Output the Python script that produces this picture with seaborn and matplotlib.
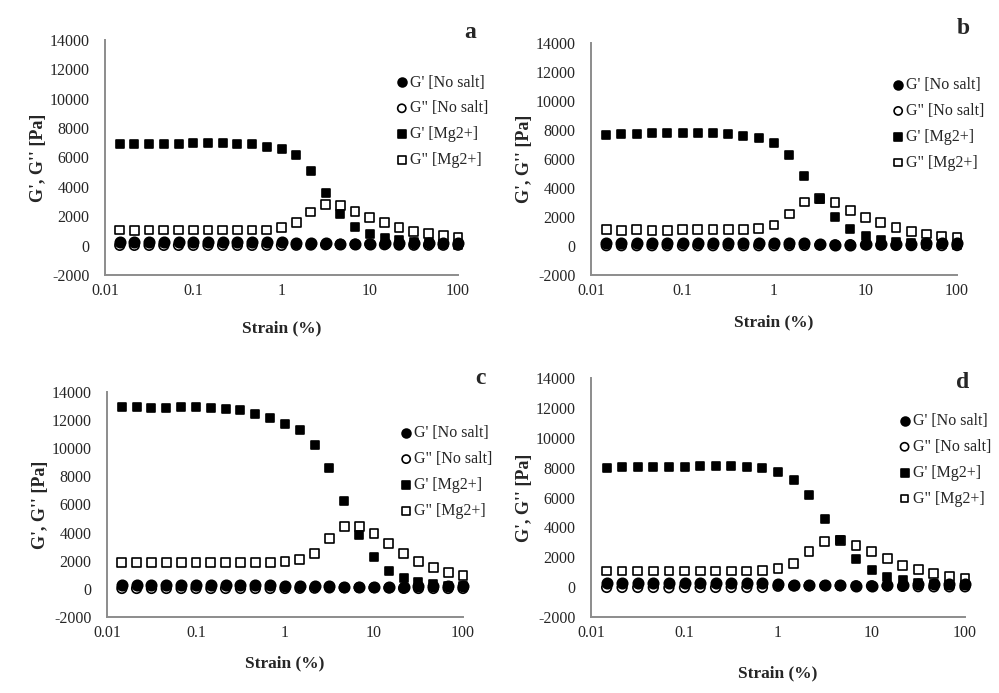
import numpy as np
import pandas as pd
import matplotlib
matplotlib.use("Agg")
import matplotlib.pyplot as plt
import seaborn as sns

# ==========================================
# DANE
# ==========================================
strain = [0.0147, 0.0215, 0.0316, 0.0464, 0.0681, 0.1, 0.147, 0.215, 0.316, 0.464,
          0.681, 1.0, 1.47, 2.15, 3.16, 4.64, 6.81, 10.0, 14.7, 21.5, 31.6, 46.4, 68.1, 100.0]

series_labels = ["G' [No salt]", 'G" [No salt]', "G' [Mg2+]", 'G" [Mg2+]']
panel_letters = ["a", "b", "c", "d"]

# panel a
a_gp_ns = [230, 240, 240, 240, 240, 240, 240, 240, 240, 230, 230, 220, 210, 200, 170, 110,
           90, 130, 160, 170, 170, 180, 180, 190]
a_gpp_ns = [20, 20, 20, 20, 20, 20, 20, 20, 20, 20, 20, 20, 30, 40, 60, 90,
            100, 110, 60, 40, 30, 30, 30, 30]
a_gp_mg = [6900, 6900, 6900, 6900, 6900, 6970, 6970, 6970, 6900, 6900, 6740, 6580, 6170, 5070,
           3610, 2170, 1300, 800, 530, 390, 230, 160, 110, 70]
a_gpp_mg = [1070, 1030, 1070, 1070, 1070, 1070, 1070, 1070, 1070, 1070, 1070, 1260, 1550, 2290,
            2810, 2740, 2350, 1940, 1550, 1210, 960, 800, 690, 530]

# panel b
b_gp_ns = [240, 240, 240, 240, 240, 240, 240, 240, 240, 240, 230, 220, 200, 180, 120, 100,
           90, 110, 150, 170, 170, 180, 180, 190]
b_gpp_ns = [20, 20, 20, 20, 20, 20, 20, 20, 20, 20, 20, 20, 30, 40, 60, 80,
            90, 80, 60, 40, 30, 30, 30, 30]
b_gp_mg = [7650, 7720, 7720, 7810, 7810, 7810, 7810, 7810, 7720, 7590, 7420, 7130, 6300, 4850,
           3220, 1980, 1150, 690, 410, 250, 180, 140, 110, 70]
b_gpp_mg = [1150, 1060, 1150, 1060, 1060, 1150, 1150, 1150, 1150, 1150, 1220, 1450, 2210, 3030,
            3250, 2990, 2440, 1980, 1610, 1260, 990, 830, 690, 570]

# panel c
c_gp_ns = [250, 260, 260, 260, 260, 260, 260, 260, 260, 260, 250, 240, 230, 210, 180, 120,
           100, 100, 120, 160, 180, 190, 190, 200]
c_gpp_ns = [30, 30, 30, 30, 30, 30, 30, 30, 30, 30, 30, 30, 40, 50, 70, 90,
            100, 90, 70, 40, 30, 30, 30, 30]
c_gp_mg = [12930, 12930, 12860, 12860, 12930, 12930, 12860, 12760, 12690, 12450, 12150, 11740,
           11270, 10250, 8610, 6240, 3800, 2250, 1300, 760, 470, 360, 240, 170]
c_gpp_mg = [1850, 1850, 1850, 1850, 1850, 1850, 1850, 1850, 1850, 1850, 1850, 1950, 2090, 2490,
            3580, 4440, 4460, 3910, 3200, 2490, 1950, 1540, 1160, 930]

# panel d
d_gp_ns = [260, 270, 270, 270, 270, 270, 270, 270, 270, 270, 260, 200, 170, 150, 130, 110,
           90, 100, 130, 170, 190, 200, 200, 200]
d_gpp_ns = [-20, -20, -20, -20, -40, -20, -20, -20, -20, -20, -20, 60, 80, 90, 100, 100,
            90, 90, 80, 50, 30, 20, 20, 20]
d_gp_mg = [7980, 8040, 8040, 8040, 8040, 8040, 8090, 8090, 8090, 8040, 7980, 7690, 7150, 6180,
           4560, 3150, 1870, 1120, 670, 450, 290, 220, 160, 110]
d_gpp_mg = [1080, 1080, 1080, 1080, 1080, 1080, 1080, 1080, 1080, 1080, 1120, 1260, 1570, 2360,
            3030, 3100, 2810, 2360, 1910, 1460, 1170, 900, 720, 560]

panels = [
    [a_gp_ns, a_gpp_ns, a_gp_mg, a_gpp_mg],
    [b_gp_ns, b_gpp_ns, b_gp_mg, b_gpp_mg],
    [c_gp_ns, c_gpp_ns, c_gp_mg, c_gpp_mg],
    [d_gp_ns, d_gpp_ns, d_gp_mg, d_gpp_mg],
]

# ==========================================
# STYL
# ==========================================
sns.set_style("white")
plt.rcParams["font.family"] = ["Liberation Serif", "DejaVu Serif"]
plt.rcParams["axes.unicode_minus"] = False

markers = ["o", "o", "s", "s"]
faces = ["black", "none", "black", "none"]
sizes = [56, 48, 40, 40]

# pozycje osi w pikselach (lewa, gora, prawa, dol) dla 999x693
boxes = [
    (105, 40, 458, 275),
    (591, 43, 957, 275),
    (107, 392, 463, 617),
    (591, 378, 965, 617),
]
xlabel_y = [328, 322, 663, 673]
letter_pos = [(470, 33), (963, 28), (480, 378), (963, 383)]

W, H = 999, 693
fig = plt.figure(figsize=(W / 100, H / 100), dpi=100)

for i, (vals, box) in enumerate(zip(panels, boxes)):
    l, t, r, b = box
    ax = fig.add_axes([l / W, 1 - b / H, (r - l) / W, (b - t) / H])

    for k in range(4):
        df = pd.DataFrame({"strain": strain, "G": vals[k]})
        sns.scatterplot(data=df, x="strain", y="G", ax=ax, marker=markers[k], s=sizes[k],
                        facecolor=faces[k], edgecolor="black", linewidth=1.2,
                        label=series_labels[k], clip_on=False, zorder=3 + k)

    ax.set_xscale("log")
    ax.set_xlim(0.01, 100)
    ax.set_ylim(-2000, 14000)
    ax.set_xticks([0.01, 0.1, 1, 10, 100])
    ax.set_xticklabels(["0.01", "0.1", "1", "10", "100"])
    ax.xaxis.set_minor_locator(matplotlib.ticker.NullLocator())
    ax.set_yticks(np.arange(-2000, 14001, 2000))
    ax.tick_params(axis="both", length=0, labelsize=11.5, pad=6)
    ax.tick_params(axis="y", pad=11)

    sns.despine(ax=ax)
    for side in ["left", "bottom"]:
        ax.spines[side].set_color("#8c8c8c")
        ax.spines[side].set_linewidth(1.4)

    ax.set_xlabel("")
    ax.set_ylabel("G', G'' [Pa]", fontsize=13, fontweight="bold", labelpad=2)
    fig.text((l + r) / 2 / W, 1 - xlabel_y[i] / H, "Strain (%)", ha="center", va="center",
             fontsize=12.5, fontweight="bold")
    fig.text(letter_pos[i][0] / W, 1 - letter_pos[i][1] / H, panel_letters[i],
             ha="center", va="center", fontsize=17, fontweight="bold")

    ax.legend(loc="upper left", bbox_to_anchor=(0.80, 0.88), frameon=False,
              fontsize=11.5, handletextpad=0.0, labelspacing=0.62, borderaxespad=0,
              handlelength=1.0, markerscale=0.85)

fig.savefig("out.png", dpi=100)
